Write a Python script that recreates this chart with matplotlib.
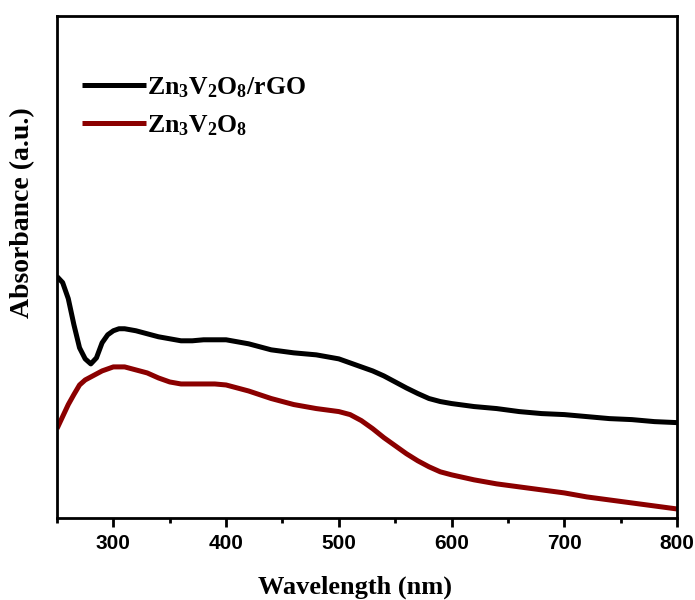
import matplotlib
matplotlib.use("Agg")
import matplotlib.pyplot as plt

plt.rcParams["mathtext.fontset"] = "custom"
plt.rcParams["mathtext.rm"] = "Liberation Serif:bold"
plt.rcParams["mathtext.it"] = "Liberation Serif:bold"
plt.rcParams["mathtext.bf"] = "Liberation Serif:bold"

# UV-vis absorbance (arbitrary units)
wavelength = [250, 255, 260, 265, 270, 275, 280, 285, 290, 295, 300, 305, 310,
              320, 330, 340, 350, 360, 370, 380, 390, 400, 420, 440, 460, 480,
              500, 510, 520, 530, 540, 550, 560, 570, 580, 590, 600, 620, 640,
              660, 680, 700, 720, 740, 760, 780, 800]

abs_rgo = [0.481, 0.469, 0.437, 0.385, 0.339, 0.317, 0.307, 0.319, 0.349, 0.365,
           0.373, 0.377, 0.377, 0.373, 0.367, 0.361, 0.357, 0.353, 0.353, 0.355,
           0.355, 0.355, 0.347, 0.335, 0.329, 0.325, 0.317, 0.309, 0.301, 0.293,
           0.283, 0.271, 0.259, 0.248, 0.238, 0.232, 0.228, 0.222, 0.218, 0.212,
           0.208, 0.206, 0.202, 0.198, 0.196, 0.192, 0.190]

abs_zvo = [0.178, 0.202, 0.226, 0.246, 0.265, 0.275, 0.281, 0.287, 0.293, 0.297,
           0.301, 0.301, 0.301, 0.295, 0.289, 0.279, 0.271, 0.267, 0.267, 0.267,
           0.267, 0.265, 0.253, 0.238, 0.226, 0.218, 0.212, 0.206, 0.194, 0.178,
           0.160, 0.144, 0.128, 0.114, 0.102, 0.092, 0.086, 0.076, 0.068, 0.062,
           0.056, 0.050, 0.042, 0.036, 0.030, 0.024, 0.018]

labels = [r"Zn$_3$V$_2$O$_8$/rGO", r"Zn$_3$V$_2$O$_8$"]
colors = ["#000000", "#8b0000"]

fig = plt.figure(figsize=(6.95, 6.0), dpi=100)
ax = fig.add_axes([57 / 695, 1 - 518 / 600, 620 / 695, 502 / 600])

for y, lab, col in zip([abs_rgo, abs_zvo], labels, colors):
    ax.plot(wavelength, y, color=col, lw=3.6, label=lab,
            solid_joinstyle="round", solid_capstyle="butt")

ax.set_xlim(250, 800)
ax.set_ylim(0, 1.0)
ax.set_xticks([300, 400, 500, 600, 700, 800])
ax.set_xticks([250, 350, 450, 550, 650, 750], minor=True)
ax.set_yticks([])
ax.tick_params(axis="x", which="major", direction="out", length=6.5, width=2,
               pad=5, labelsize=15)
ax.tick_params(axis="x", which="minor", direction="out", length=3.5, width=2)
for lbl in ax.get_xticklabels():
    lbl.set_fontfamily("Liberation Sans")
    lbl.set_fontweight("bold")
for sp in ax.spines.values():
    sp.set_linewidth(2)

leg = ax.legend(loc="upper left", bbox_to_anchor=(0.04, 0.882), frameon=False,
                borderpad=0, borderaxespad=0, handlelength=2.5,
                handletextpad=0.05, labelspacing=0.52,
                prop={"family": "Liberation Serif", "weight": "bold", "size": 18.5})

fig.text(355 / 695, 0.01, "Wavelength (nm)", ha="center", va="baseline",
         family="Liberation Serif", weight="bold", fontsize=19)
fig.text(23 / 695, 1 - 213 / 600, "Absorbance (a.u.)", ha="center", va="center",
         rotation=90, family="Liberation Serif", weight="bold", fontsize=20)

fig.savefig("out.png", dpi=100)
